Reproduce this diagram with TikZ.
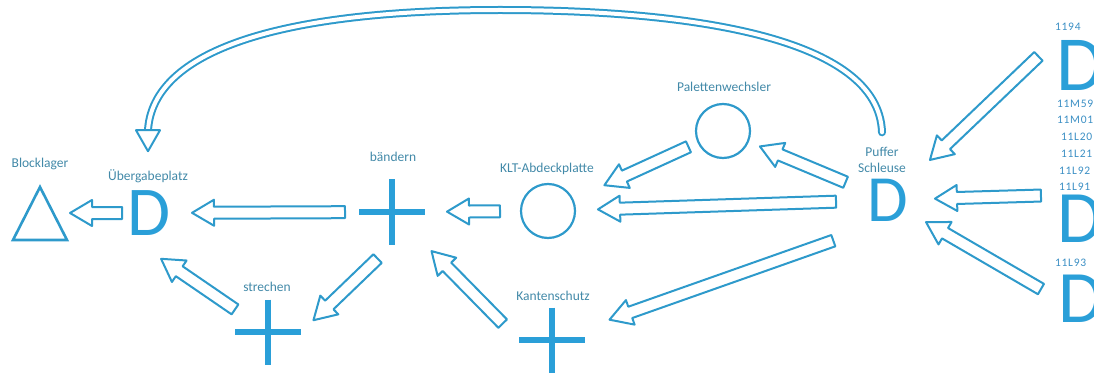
\documentclass[tikz,border=0pt]{standalone}
\usepackage{fontspec}
\setmainfont{Carlito}
\usetikzlibrary{calc,positioning}
\definecolor{sky}{HTML}{2A9FD8}
\definecolor{flowblue}{HTML}{2E9ACB}
\definecolor{tag}{HTML}{4289A8}
\definecolor{code}{HTML}{3B8FC4}
\tikzset{
  lbl/.style={text=tag, font=\fontsize{13.5}{15.5}\selectfont, inner sep=0pt},
  num/.style={text=code, font=\fontsize{11.5}{12}\selectfont\addfontfeature{LetterSpace=6}, inner sep=0pt, anchor=west},
  bigD/.style={text=sky, font=\fontsize{70}{70}\selectfont, inner sep=0pt},
  station/.style={circle, draw=flowblue, line width=2.2pt, minimum size=54pt, inner sep=0pt},
  flowarrow/.style={draw=flowblue, fill=white, line width=2pt, line join=round},
  flowline/.style={draw=flowblue, double=white, line width=2pt, double distance=4pt, line cap=round},
  crossline/.style={draw=sky, line width=6pt},
  crossnode/.style={minimum width=66pt, minimum height=65pt, inner sep=0pt,
    path picture={\draw[crossline] (path picture bounding box.west) -- (path picture bounding box.east)
      (path picture bounding box.north) -- (path picture bounding box.south);}}
}
\def\bodyw{6pt}
\def\headw{13pt}
\def\headlen{22pt}
% hollow block arrow: tail, tip
\newcommand\blockarrow[2]{%
  \coordinate (ba-a) at (#1); \coordinate (ba-b) at (#2);
  \coordinate (ba-n) at ($(ba-b)!\headlen!(ba-a)$);
  \draw[flowarrow] ($(ba-a)!\bodyw!90:(ba-b)$) -- ($(ba-n)!\bodyw!90:(ba-b)$) -- ($(ba-n)!\headw!90:(ba-b)$)
    -- (ba-b) -- ($(ba-n)!\headw!-90:(ba-b)$) -- ($(ba-n)!\bodyw!-90:(ba-b)$) -- ($(ba-a)!\bodyw!-90:(ba-b)$) -- cycle;}

\begin{document}
\begin{tikzpicture}[x=1pt, y=-1pt]
  \useasboundingbox (0,0) rectangle (1094,374);
  \clip (0,0) rectangle (1094,374);
  % stations
  \coordinate (block) at (40,213);
  \draw[draw=flowblue, line width=2.6pt, line join=miter] (block) ++(0,-26) -- ++(27,53) -- ++(-54,0) -- cycle;
  \node[lbl] (blockLbl) at (40,164) {Blocklager};
  \node[bigD] (ueberD) at (149,213) {D};
  \node[lbl] (ueberLbl) at (148,176) {Übergabeplatz};
  \node[crossnode] (baendern) at (392,212) {};
  \node[lbl] (baendernLbl) at (393,157) {bändern};
  \node[station] (klt) at (548,211) {};
  \node[lbl] (kltLbl) at (547,169) {KLT-Abdeckplatte};
  \node[station] (pal) at (723,131) {};
  \node[lbl] (palLbl) at (724,87) {Palettenwechsler};
  \node[bigD, font=\fontsize{66}{66}\selectfont] (puffer) at (888,200) {D};
  \node[lbl, align=center] (pufferLbl) at (882,160) {Puffer\\Schleuse};
  \node[crossnode] (strechen) at (268,332) {};
  \node[lbl] (strechenLbl) at (267,287) {strechen};
  \node[crossnode] (kant) at (552,340) {};
  \node[lbl] (kantLbl) at (553,296) {Kantenschutz};
  % sources on the right
  \node[bigD, font=\fontsize{78}{78}\selectfont] (rD1) at (1080,65) {D};
  \node[bigD, font=\fontsize{74}{74}\selectfont] (rD2) at (1080,219) {D};
  \node[bigD, font=\fontsize{74}{74}\selectfont] (rD3) at (1081,299) {D};
  \node[num] (n1194) at (1055,27) {1194};
  \node[num] (n11M59) at (1057,104) {11M59};
  \node[num] (n11M01) at (1057,120) {11M01};
  \node[num] (n11L20) at (1061,137) {11L20};
  \node[num] (n11L21) at (1061,154) {11L21};
  \node[num] (n11L92) at (1059,171) {11L92};
  \node[num] (n11L91) at (1059,187) {11L91};
  \node[num] (n11L93) at (1055,263) {11L93};
  % flows
  \blockarrow{$(ueberD)!27pt!(block)$}{$(block)!30pt!(ueberD)$}
  \blockarrow{$(baendern)!47pt!(ueberD)$}{$(ueberD)!43pt!(baendern)$}
  \blockarrow{$(klt)!48pt!(baendern)$}{$(baendern)!55pt!(klt)$}
  \blockarrow{$(puffer)!52pt!(klt)$}{$(klt)!50pt!(puffer)$}
  \blockarrow{$(pal)!38pt!(klt)$}{$(klt)!62pt!(pal)$}
  \blockarrow{$(puffer)!46pt!(pal)$}{$(pal)!40pt!(puffer)$}
  \blockarrow{$(puffer)!208pt!(rD1.north west)$}{$(puffer)!58pt!(rD1.north west)$}
  \blockarrow{$(puffer)!153pt!(rD2.north west)$}{$(puffer)!47pt!(rD2.north west)$}
  \blockarrow{$(puffer)!177pt!(rD3.west)$}{$(puffer)!44pt!(rD3.west)$}
  \blockarrow{$(puffer.south)!58pt!(kant)$}{$(kant)!61pt!(puffer.south)$}
  \blockarrow{$(kant.west)!23pt!(baendern.south east)$}{$(baendern.south east)!9pt!(kant.west)$}
  \blockarrow{$(baendern.south)!20pt!(strechen.east)$}{$(strechen.east)!17pt!(baendern.south)$}
  \blockarrow{$(strechen)!40pt!(ueberD.south west)$}{$(ueberD.south west)!41pt!(strechen)$}
  % return loop
  \coordinate (arcTail) at ($(pufferLbl.north)+(0,-15)$);
  \coordinate (arcTip) at ($(ueberLbl.north)+(0,-18)$);
  \coordinate (arcNeck) at ($(arcTip)+(0,-21)$);
  \coordinate (arcTop) at (500,10);
  \draw[flowline] (arcTail) .. controls +(-3,-95) and +(190,0) .. (arcTop)
    .. controls +(-220,0) and +(5,-80) .. (arcNeck);
  \draw[flowarrow] ($(arcNeck)+(-12,0)$) -- ($(arcNeck)+(12,0)$) -- (arcTip) -- cycle;
\end{tikzpicture}
\end{document}
